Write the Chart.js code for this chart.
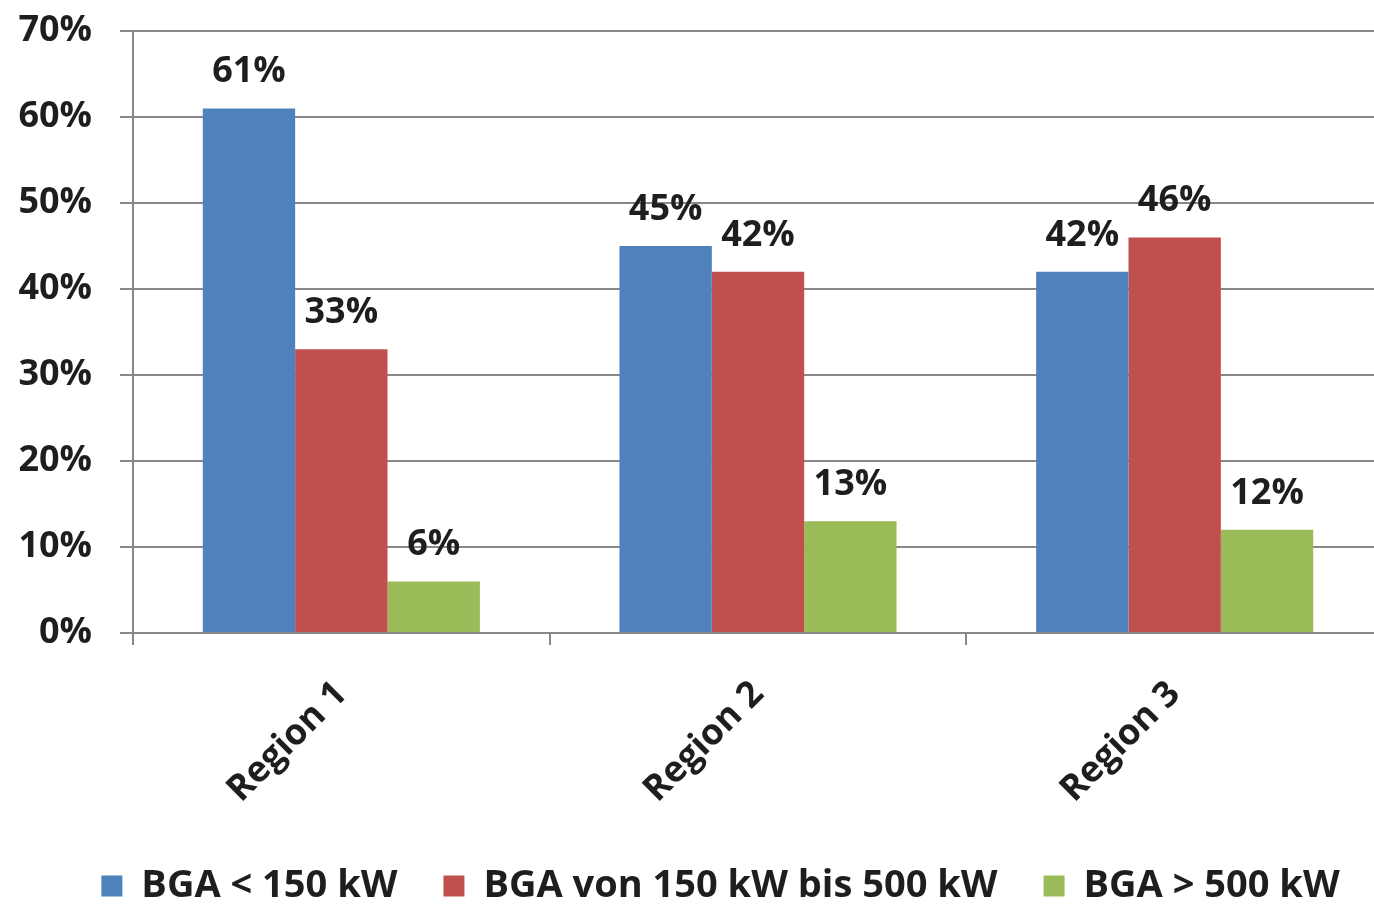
<!DOCTYPE html>
<html>
<head>
<meta charset="utf-8">
<script src="https://cdn.jsdelivr.net/npm/chart.js@4"></script>
<style>
  html, body { margin: 0; padding: 0; background: #ffffff; overflow: hidden; }
  #wrap { width: 1374px; height: 904px; overflow: hidden; }
  canvas { display: block; }
</style>
</head>
<body>
<div id="wrap"><canvas id="chart" width="1384" height="904"></canvas></div>
<script>
// Share of biogas plants (BGA) by installed capacity, per region
const regions = ['Region 1', 'Region 2', 'Region 3'];
const seriesNames = ['BGA < 150 kW', 'BGA von 150 kW bis 500 kW', 'BGA > 500 kW'];
const small = [61, 45, 42];
const medium = [33, 42, 46];
const large = [6, 13, 12];
const yTicks = [0, 10, 20, 30, 40, 50, 60, 70];

const colors = ['#4F81BD', '#C0504D', '#9BBB59'];
const gridColor = '#888888';
const textColor = '#1e1e1e';
const fontFamily = '"Open Sans", "DejaVu Sans", sans-serif';

// Percent labels above each bar
const valueLabels = {
  id: 'valueLabels',
  afterDatasetsDraw(chart) {
    const ctx = chart.ctx;
    ctx.save();
    ctx.font = 'bold 36px ' + fontFamily;
    ctx.fillStyle = textColor;
    ctx.textAlign = 'center';
    ctx.textBaseline = 'alphabetic';
    chart.data.datasets.forEach((ds, i) => {
      chart.getDatasetMeta(i).data.forEach((bar, j) => {
        ctx.fillText(ds.data[j] + '%', bar.x, bar.y - 26);
      });
    });
    ctx.restore();
  }
};

// Nudge the legend row a little to the right of the canvas centre
const legendShift = {
  id: 'legendShift',
  afterLayout(chart) {
    if (chart.legend) {
      chart.legend.left += 29;
      chart.legend.right += 29;
    }
  }
};

new Chart(document.getElementById('chart'), {
  type: 'bar',
  data: {
    labels: regions,
    datasets: [
      { label: seriesNames[0], data: small, backgroundColor: colors[0] },
      { label: seriesNames[1], data: medium, backgroundColor: colors[1] },
      { label: seriesNames[2], data: large, backgroundColor: colors[2] }
    ]
  },
  options: {
    responsive: false,
    animation: false,
    devicePixelRatio: 1,
    layout: { padding: { top: 31, right: 1, left: 0, bottom: -11 } },
    datasets: {
      bar: { categoryPercentage: 0.665, barPercentage: 1.0, borderWidth: 0 }
    },
    scales: {
      x: {
        offset: true,
        grid: {
          offset: true,
          drawOnChartArea: false,
          drawTicks: true,
          tickLength: 12,
          color: gridColor,
          lineWidth: 2
        },
        border: { display: true, color: gridColor, width: 2 },
        ticks: {
          minRotation: 45,
          maxRotation: 45,
          padding: 28,
          color: textColor,
          font: { family: fontFamily, size: 36, weight: 'bold' }
        },
        afterFit(scale) {
          scale.height = 188;
          scale.paddingLeft = 0;
          scale.paddingRight = 0;
        }
      },
      y: {
        min: 0,
        max: 70,
        afterBuildTicks(scale) { scale.ticks = yTicks.map(v => ({ value: v })); },
        grid: {
          color: gridColor,
          lineWidth: 2,
          drawTicks: true,
          tickLength: 13
        },
        border: { display: true, color: gridColor, width: 2 },
        ticks: {
          padding: 28,
          color: textColor,
          font: { family: fontFamily, size: 36, weight: 'bold' },
          callback: v => v + '%'
        },
        afterFit(scale) {
          scale.width = 133;
          scale.paddingTop = 0;
          scale.paddingBottom = 0;
        }
      }
    },
    plugins: {
      legend: {
        position: 'bottom',
        labels: {
          boxWidth: 21,
          boxHeight: 21,
          padding: 46,
          color: textColor,
          font: { family: fontFamily, size: 38, weight: 'bold' }
        }
      },
      tooltip: { enabled: false }
    }
  },
  plugins: [valueLabels, legendShift]
});
</script>
</body>
</html>
